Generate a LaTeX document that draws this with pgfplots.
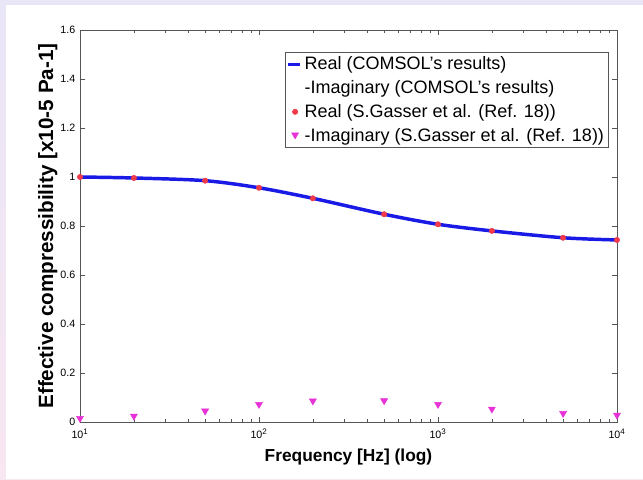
\documentclass[border=0pt]{standalone}
\usepackage{pgfplots}
\pgfplotsset{compat=1.18}
\usepackage{fontspec}
\setmainfont{Liberation Sans}
\setsansfont{Liberation Sans}
\definecolor{bgtop}{HTML}{E9E6F8}
\definecolor{bgbot}{HTML}{F8E6F0}
\definecolor{realblue}{HTML}{1A1AE6}
\definecolor{redpt}{HTML}{F03A4A}
\definecolor{magpt}{HTML}{E832D8}
\definecolor{axgray}{HTML}{555555}

\pgfplotstableread{
f     re     im
10    1.000  0.015
20    0.996  0.024
50    0.985  0.045
100   0.956  0.072
200   0.913  0.086
500   0.848  0.087
1000  0.807  0.072
2000  0.780  0.053
5000  0.752  0.035
10000 0.743  0.028
}\datatab

\begin{document}
\begin{tikzpicture}
% page background (643 x 479 px at 0.75pt per px)
\shade[top color=bgtop,bottom color=bgbot] (0pt,0pt) rectangle (482.25pt,359.25pt);
\fill[white] (4.5pt,0pt) rectangle (482.25pt,355.5pt);
\begin{axis}[
  at={(60pt,42.75pt)}, anchor=south west,
  scale only axis, width=402.75pt, height=294pt,
  xmode=log, xmin=10, xmax=10000,
  ymin=0, ymax=1.6,
  ytick={0,0.2,...,1.6},
  yticklabels={0,0.2,0.4,0.6,0.8,1,1.2,1.4,1.6},
  xtick={10,100,1000,10000},
  xticklabels={10\textsuperscript{1},10\textsuperscript{2},10\textsuperscript{3},10\textsuperscript{4}},
  xticklabel style={yshift=-2pt},
  tick align=inside,
  axis line style={axgray},
  tick style={axgray},
  major tick length=4pt, minor tick length=2.5pt,
  ticklabel style={font=\fontsize{8}{9}\selectfont},
  /pgf/number format/assume math mode=true,
  xlabel={\textbf{Frequency [Hz] (log)}},
  ylabel={\textbf{Effective compressibility [x10-5 Pa-1]}},
  xlabel style={font=\fontsize{13}{15}\selectfont, yshift=-1pt},
  ylabel style={font=\fontsize{15.5}{17}\selectfont,
    at={(axis description cs:-0.06,0.5)}, anchor=center},
  legend style={font=\fontsize{13.5}{16}\selectfont, draw=axgray,
    at={(0.985,0.944)}, anchor=north east, inner sep=1.5pt,
    row sep=2.5pt},
  legend cell align=left,
  legend image code/.code={\draw[#1] (0pt,0pt) -- (9pt,0pt);},
]
\addplot[realblue, line width=2.6pt, smooth, forget plot] table[x=f,y=re] {\datatab};
\addlegendimage{realblue, line width=2.2pt}
\addlegendentry{Real (COMSOL's results)}
\addlegendimage{white, line width=2pt}
\addlegendentry{-Imaginary (COMSOL's results)}
\addplot[only marks, mark=*, mark size=2pt, redpt,
  legend image code/.code={\fill[redpt] (5pt,0pt) circle (2pt);}]
  table[x=f,y=re] {\datatab};
\addlegendentry{Real (S.Gasser et al. (Ref. 18))}
\addplot[only marks, mark=triangle*, mark size=3pt, magpt,
  mark options={rotate=180},
  legend image code/.code={\fill[magpt] (2.4pt,2pt) -- (7.6pt,2pt) -- (5pt,-2.5pt) -- cycle;}]
  table[x=f,y=im] {\datatab};
\addlegendentry{-Imaginary (S.Gasser et al. (Ref. 18))}
\end{axis}
\end{tikzpicture}
\end{document}
